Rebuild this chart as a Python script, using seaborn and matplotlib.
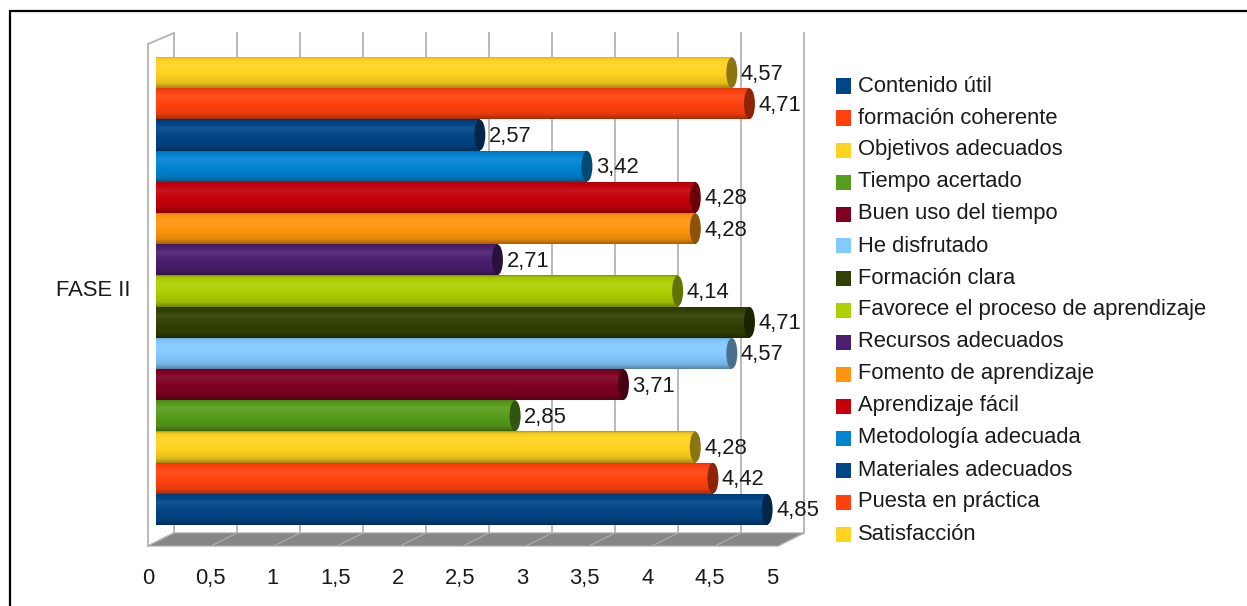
import numpy as np
import pandas as pd
import matplotlib
matplotlib.use("Agg")
import matplotlib.pyplot as plt
import seaborn as sns
from matplotlib.patches import Ellipse, Polygon, Rectangle
from matplotlib.colors import to_rgb
from matplotlib.lines import Line2D

# ---------------- data ----------------
category = "FASE II"
series = ["Contenido útil", "formación coherente", "Objetivos adecuados", "Tiempo acertado",
          "Buen uso del tiempo", "He disfrutado", "Formación clara",
          "Favorece el proceso de aprendizaje", "Recursos adecuados", "Fomento de aprendizaje",
          "Aprendizaje fácil", "Metodología adecuada", "Materiales adecuados",
          "Puesta en práctica", "Satisfacción"]
values = [4.85, 4.42, 4.28, 2.85, 3.71, 4.57, 4.71, 4.14, 2.71, 4.28, 4.28, 3.42, 2.57, 4.71, 4.57]
colors = ["#004586", "#ff420e", "#ffd320", "#579d1c", "#7e0021", "#83caff", "#314004",
          "#aecf00", "#4b1f6f", "#ff950e", "#c5000b", "#0084d1", "#004586", "#ff420e", "#ffd320"]
xticks = [0, 0.5, 1, 1.5, 2, 2.5, 3, 3.5, 4, 4.5, 5]

# ---------------- style ----------------
sns.set_theme(style="white")
plt.rcParams["font.family"] = ["Liberation Sans", "DejaVu Sans"]
TXT = "#1a1a1a"
FS = 15.8

W, H = 1247, 606
fig = plt.figure(figsize=(W / 100, H / 100), dpi=100)

# axes occupying pixel box x 130..830, y 20..560 (from top)
ax_l, ax_r, ax_t, ax_b = 130, 830, 20, 560
ax = fig.add_axes([ax_l / W, 1 - ax_b / H, (ax_r - ax_l) / W, (ax_b - ax_t) / H])

PX = 126.0          # pixels per value unit
X0 = 156.0          # pixel of value 0 (bars)
PY = 31.2           # pixels per bar
Y0 = 72.6           # pixel centre of top bar

def dx(px):  # pixel x -> data x
    return (px - X0) / PX

def dy(py):  # pixel y -> data y (top bar = 0)
    return (py - Y0) / PY

# order: top bar first
order = series[::-1]
df = pd.DataFrame({"serie": series, "valor": values})
pal = dict(zip(series, colors))

sns.barplot(data=df, y="serie", x="valor", hue="serie", order=order, hue_order=order,
            palette=pal, width=1.0, orient="h", legend=False, ax=ax,
            linewidth=0, saturation=1)

ax.set_xlim(dx(ax_l), dx(ax_r))
ax.set_ylim(dy(ax_b), dy(ax_t))

off_back = dx(174)
off_front = dx(148)

# back wall gridlines
for v in xticks:
    ax.plot([v + off_back, v + off_back], [dy(32), dy(533)], color="#b4b4b4", lw=1.3,
            zorder=0.5, solid_capstyle="butt")
# back wall bottom edge
ax.plot([off_back, 5 + off_back], [dy(533), dy(533)], color="#c8c8c8", lw=1.0, zorder=0.5)
# left wall
ax.plot([off_front, off_front], [dy(44), dy(546)], color="#b4b4b4", lw=1.3, zorder=0.6)
ax.plot([off_front, off_back], [dy(44), dy(33)], color="#b4b4b4", lw=1.3, zorder=0.6)
ax.plot([off_front, off_back], [dy(546), dy(533)], color="#b4b4b4", lw=1.0, zorder=0.6)
# floor
floor = Polygon([(off_front, dy(546)), (5 + off_front, dy(546)),
                 (5 + off_back, dy(533)), (off_back, dy(533))],
                closed=True, facecolor="#868686", edgecolor="#a8a8a8", lw=0.8, zorder=0.7)
ax.add_patch(floor)
for v in xticks:
    ax.plot([v + off_back, v + off_front], [dy(533), dy(546)], color="#b0b0b0", lw=0.8, zorder=0.8)

# cylinder-like shading on bars
prof_y = np.linspace(0, 1, 64)
def shade(c, t):
    c = np.array(to_rgb(c))
    k = np.interp(t, [0, 0.06, 0.28, 0.55, 0.85, 1.0], [0.72, 0.95, 1.07, 1.0, 0.9, 0.65])
    out = np.where(k > 1, c + (1 - c) * (k - 1) * 1.2, c * k)
    return np.clip(out, 0, 1)

bars = [p for p in ax.patches if isinstance(p, Rectangle) and p.get_height() > 0]
for p in bars:
    x, y, w, h = p.get_x(), p.get_y(), p.get_width(), p.get_height()
    if w <= 0:
        continue
    col = p.get_facecolor()
    grad = np.array([shade(col[:3], t) for t in prof_y])[:, None, :]
    im = ax.imshow(grad, extent=(x, x + w, y + h, y), aspect="auto", zorder=2,
                   interpolation="bilinear", origin="upper")
    im.set_clip_path(p)
    capc = np.array(to_rgb(col[:3])) * 0.55
    cap = Ellipse((x + w, y + h / 2), width=11 / PX, height=h * 0.98,
                  facecolor=capc, edgecolor="none", zorder=3)
    ax.add_patch(cap)
    ax.text(x + w + 9 / PX, y + h / 2 + 0.05, f"{w:.2f}".replace(".", ","), ha="left",
            va="center", fontsize=FS, color=TXT, zorder=4)

# axes cosmetics
ax.set_xlabel("")
ax.set_ylabel("")
ax.set_yticks([])
ax.set_xticks([dx(148 + 124.8 * v) for v in xticks])
ax.set_xticklabels([(str(int(v)) if float(v).is_integer() else str(v).replace(".", ",")) for v in xticks],
                   fontsize=FS, color=TXT)
ax.tick_params(axis="x", length=0, pad=6)
for s in ax.spines.values():
    s.set_visible(False)
ax.grid(False)
ax.set_facecolor("none")

# category label
ax.text(dx(131), 7, category, ha="right", va="center", fontsize=FS, color=TXT)

# legend (manual, figure pixel coords)
for i, (name, c) in enumerate(zip(series, colors)):
    yc = 86 + 32.0 * i
    fig.patches.append(Rectangle((836 / W, 1 - (yc + 7.5) / H), 15 / W, 15 / H,
                                 transform=fig.transFigure, facecolor=c, edgecolor="none"))
    fig.text(858 / W, 1 - yc / H, name, ha="left", va="center", fontsize=FS, color=TXT)

# outer frame (top and left edges visible)
fig.add_artist(Line2D([10 / W, 1.0], [1 - 10.5 / H, 1 - 10.5 / H], transform=fig.transFigure,
                      color="black", lw=1.6))
fig.add_artist(Line2D([10 / W, 10 / W], [1 - 10.5 / H, 0.0], transform=fig.transFigure,
                      color="black", lw=1.6))

fig.savefig("out.png", dpi=100)
